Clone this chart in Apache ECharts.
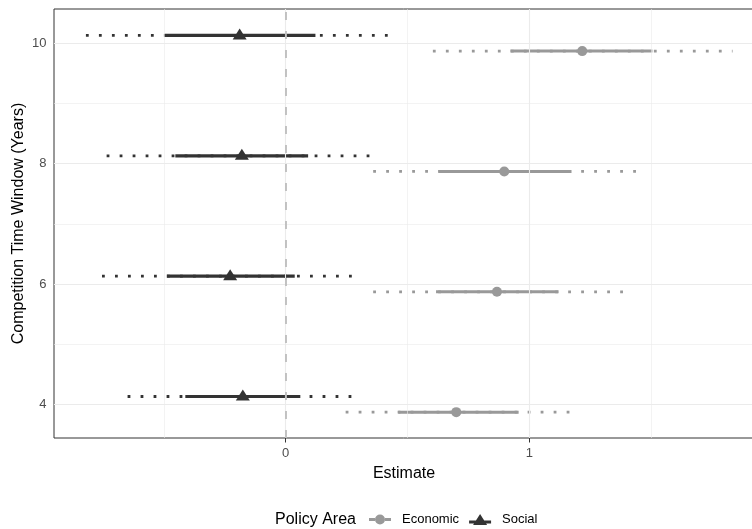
<!DOCTYPE html>
<html>
<head>
<meta charset="utf-8">
<script src="https://cdn.jsdelivr.net/npm/echarts@6/dist/echarts.min.js"></script>
<style>
  html, body { margin: 0; padding: 0; background: #fff; }
  #chart { width: 752px; height: 529px; }
</style>
</head>
<body>
<div id="chart"></div>
<script>
// competition time windows (years)
const windows = [4, 6, 8, 10];

// Economic policy area
const econEst = [0.700, 0.867, 0.897, 1.217];
const econInnerLo = [0.462, 0.617, 0.627, 0.922];
const econInnerHi = [0.956, 1.120, 1.173, 1.505];
const econOuterLo = [0.246, 0.359, 0.359, 0.604];
const econOuterHi = [1.169, 1.385, 1.440, 1.834];

// Social policy area
const socialEst = [-0.176, -0.228, -0.180, -0.189];
const socialInnerLo = [-0.412, -0.488, -0.453, -0.498];
const socialInnerHi = [0.060, 0.037, 0.092, 0.122];
const socialOuterLo = [-0.649, -0.754, -0.735, -0.820];
const socialOuterHi = [0.305, 0.307, 0.384, 0.445];

// axis breaks
const xTicks = [0, 1];
const xMinor = [-0.5, 0.5, 1.5];
const yTicks = [4, 6, 8, 10];
const yMinor = [5, 7, 9];

const dodge = 0.13;
const econColor = '#999999';
const socialColor = '#333333';
const font = 'Liberation Sans, Arial, sans-serif';

const chart = echarts.init(document.getElementById('chart'));

function rangeData(lo, hi, off) {
  return windows.map((w, i) => [lo[i], w + off, hi[i]]);
}
function pointData(est, off) {
  return windows.map((w, i) => [est[i], w + off]);
}

function rangeSeries(name, data, color, width, dash) {
  return {
    type: 'custom',
    name: name,
    silent: true,
    z: 3,
    data: data,
    encode: { x: [0, 2], y: 1 },
    renderItem: function (params, api) {
      const y = api.value(1);
      const a = api.coord([api.value(0), y]);
      const b = api.coord([api.value(2), y]);
      return {
        type: 'line',
        shape: { x1: a[0], y1: a[1], x2: b[0], y2: b[1] },
        style: { stroke: color, lineWidth: width, lineDash: dash, lineCap: 'butt' }
      };
    }
  };
}

function gridLines(values, axis, width) {
  return values.map(v => ({ [axis]: v, lineStyle: { color: '#ebebeb', width: width, type: 'solid' } }));
}

const econIcon = 'path://M0,3.5L6,3.5L6,6.5L0,6.5Z M16,3.5L22,3.5L22,6.5L16,6.5Z M6,5A5,5 0 1 1 16,5A5,5 0 1 1 6,5Z';
const socialIcon = 'path://M0,6.5L22,6.5L22,9.5L0,9.5Z M4,11L11,0L18,11Z';

const option = {
  animation: false,
  backgroundColor: '#fff',
  textStyle: { fontFamily: font },
  title: {
    text: 'Policy Area',
    left: 275,
    top: 512,
    padding: 0,
    textStyle: { fontFamily: font, fontSize: 16, fontWeight: 'normal', color: '#000' }
  },
  legend: {
    left: 369,
    top: 513,
    padding: 0,
    itemGap: 10,
    itemWidth: 22,
    itemHeight: 11,
    textStyle: { fontFamily: font, fontSize: 13, color: '#000', padding: [0, 0, 0, 6] },
    data: [
      { name: 'Economic', icon: econIcon, itemStyle: { color: econColor } },
      { name: 'Social', icon: socialIcon, itemStyle: { color: socialColor } }
    ]
  },
  grid: {
    left: 54, top: 9, right: -2, bottom: 91,
    outerBoundsMode: 'none',
    containLabel: false,
    show: true, borderColor: '#333333', borderWidth: 1, backgroundColor: '#fff'
  },
  xAxis: {
    type: 'value',
    min: -0.951, max: 1.922,
    name: 'Estimate',
    nameLocation: 'middle',
    nameGap: 28,
    nameMoveOverlap: false,
    nameTextStyle: { fontFamily: font, fontSize: 16, color: '#000' },
    axisLine: { show: false },
    axisTick: { show: true, length: 4.5, customValues: xTicks, lineStyle: { color: '#333333' } },
    axisLabel: { customValues: xTicks, margin: 9, fontSize: 13, color: '#4d4d4d', fontFamily: font },
    splitLine: { show: false }
  },
  yAxis: {
    type: 'value',
    min: 3.44, max: 10.57,
    name: 'Competition Time Window (Years)',
    nameLocation: 'middle',
    nameGap: 27,
    nameMoveOverlap: false,
    nameTextStyle: { fontFamily: font, fontSize: 16, color: '#000' },
    axisLine: { show: false },
    axisTick: { show: true, length: 4.5, customValues: yTicks, lineStyle: { color: '#333333' } },
    axisLabel: { customValues: yTicks, margin: 7.5, fontSize: 13, color: '#4d4d4d', fontFamily: font },
    splitLine: { show: false }
  },
  series: [
    {
      type: 'scatter',
      name: 'grid',
      silent: true,
      z: 1,
      data: [],
      markLine: {
        silent: true,
        symbol: 'none',
        label: { show: false },
        data: [].concat(
          gridLines(xMinor, 'xAxis', 0.6),
          gridLines(yMinor, 'yAxis', 0.6),
          gridLines(xTicks, 'xAxis', 1.1),
          gridLines(yTicks, 'yAxis', 1.1),
          [{ xAxis: 0, lineStyle: { color: '#bdbdbd', width: 1.8, type: [8, 11] } }]
        )
      }
    },
    rangeSeries('econOuter', rangeData(econOuterLo, econOuterHi, -dodge), econColor, 2.8, [2.8, 10.2]),
    rangeSeries('econInner', rangeData(econInnerLo, econInnerHi, -dodge), econColor, 3, null),
    rangeSeries('socialOuter', rangeData(socialOuterLo, socialOuterHi, dodge), socialColor, 2.8, [2.8, 10.2]),
    rangeSeries('socialInner', rangeData(socialInnerLo, socialInnerHi, dodge), socialColor, 3.2, null),
    {
      type: 'scatter',
      name: 'Economic',
      z: 5,
      symbol: 'circle',
      symbolSize: 10,
      itemStyle: { color: econColor, opacity: 1 },
      data: pointData(econEst, -dodge)
    },
    {
      type: 'scatter',
      name: 'Social',
      z: 5,
      symbol: 'triangle',
      symbolSize: [14, 11],
      symbolOffset: [0, -1.5],
      itemStyle: { color: socialColor, opacity: 1 },
      data: pointData(socialEst, dodge)
    }
  ]
};

chart.setOption(option);
</script>
</body>
</html>
